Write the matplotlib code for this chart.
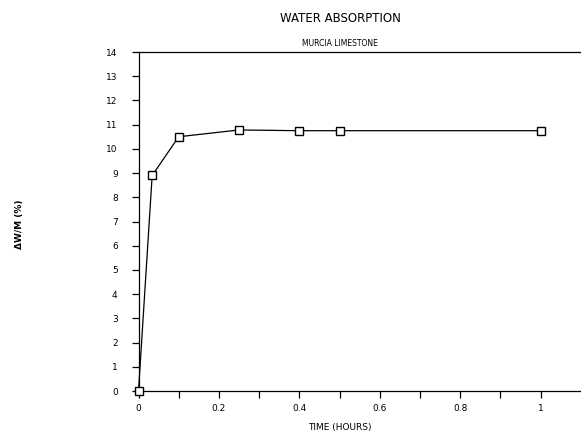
import matplotlib
matplotlib.use("Agg")
import matplotlib.pyplot as plt
import numpy as np

time_hours = [0.0, 0.034, 0.1, 0.25, 0.4, 0.5, 1.0]
absorption = [0.0, 8.9, 10.5, 10.78, 10.75, 10.75, 10.75]
x_tick_labels = ["0", "0.2", "0.4", "0.6", "0.8", "1"]
y_ticks = list(range(0, 15))

fig = plt.figure(figsize=(5.81, 4.36), dpi=100)
ax = fig.add_axes([138.5/581, 1-391/436, 1-138.5/581, (391-52)/436])

ax.plot(time_hours, absorption, color="black", lw=0.9, marker="s", ms=5.5,
        mfc="white", mec="black", mew=1.0, clip_on=False, zorder=3)

ax.set_xlim(0, 442.5/402)
ax.set_ylim(0, 14)
ax.spines["right"].set_visible(False)
for s in ["left", "bottom", "top"]:
    ax.spines[s].set_linewidth(0.9)

ax.set_xticks(np.arange(0, 1.01, 0.2))
ax.set_xticklabels(x_tick_labels)
ax.set_xticks(np.arange(0.1, 1.01, 0.2), minor=True)
ax.set_yticks(y_ticks)
ax.set_yticklabels([str(v) for v in y_ticks])
ax.tick_params(axis="both", which="both", direction="out", length=5, width=0.9,
               labelsize=6.5)
ax.tick_params(axis="y", which="both", pad=10)
ax.tick_params(axis="x", which="both", pad=4)

fig.text(340/581, 1-427/436, "TIME (HOURS)", fontsize=6.5,
         ha="center", va="center")
fig.text(20/581, 1-224/436, "ΔW/M (%)", rotation=90, fontsize=6.5,
         fontweight="bold", ha="center", va="center")
fig.text(340/581, 1-18/436, "WATER ABSORPTION", fontsize=8.5,
         ha="center", va="center")
fig.text(340/581, 1-43/436, "MURCIA LIMESTONE", fontsize=5.5,
         ha="center", va="center")

fig.savefig("out.png", dpi=100)
